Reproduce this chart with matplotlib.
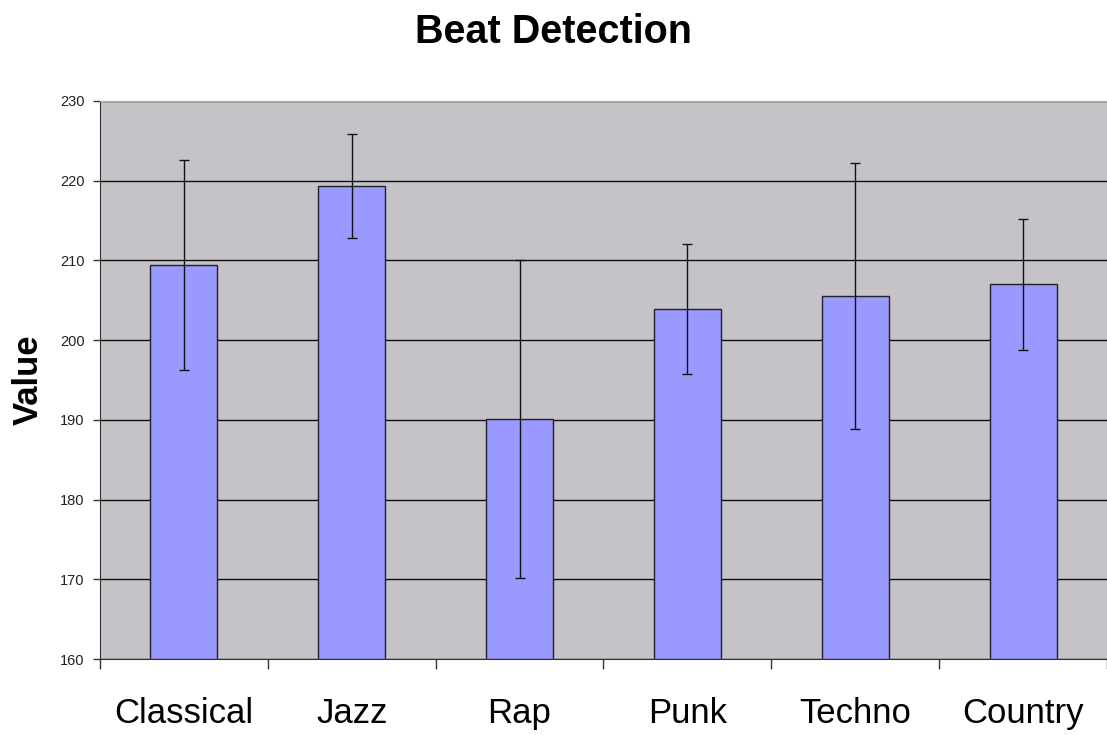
import numpy as np
import matplotlib.pyplot as plt
from matplotlib.ticker import FixedLocator, NullFormatter

genres = ['Classical', 'Jazz', 'Rap', 'Punk', 'Techno', 'Country']
means = [209.4, 219.3, 190.1, 203.9, 205.5, 207.0]
errors = [13.2, 6.5, 20.0, 8.1, 16.7, 8.2]
yticks = [160, 170, 180, 190, 200, 210, 220, 230]

plt.rcParams['font.family'] = ['Liberation Sans', 'DejaVu Sans']

fig = plt.figure(figsize=(11.07, 7.35), dpi=100)
ax = fig.add_axes([0.0903, 0.1034, 0.9097, 0.7592])
ax.set_facecolor('#C5C3C7')

x = np.arange(len(genres))
ax.bar(x, [m - 160 for m in means], bottom=160, width=0.4,
       color='#9999FF', edgecolor='#222222', linewidth=1, zorder=3)
ax.errorbar(x, means, yerr=errors, fmt='none', ecolor='#111111',
            elinewidth=1, capsize=3.5, capthick=1, zorder=4)

ax.set_xlim(-0.5, len(genres) - 0.5)
ax.set_ylim(160, 230)
ax.set_yticks(yticks)
ax.set_yticklabels([str(t) for t in yticks], fontsize=10.5, color='#222222')
ax.yaxis.grid(True, color='#111111', linewidth=1, zorder=1)
ax.set_axisbelow(True)

ax.set_xticks(x)
ax.set_xticklabels(genres, fontsize=25)
ax.tick_params(axis='x', which='major', length=0, pad=27)
ax.xaxis.set_minor_locator(FixedLocator(np.arange(-0.5, len(genres), 1.0)))
ax.xaxis.set_minor_formatter(NullFormatter())
ax.tick_params(axis='x', which='minor', length=7, width=1, color='#333333')
ax.tick_params(axis='y', length=5, width=1, color='#333333', pad=6)

ax.spines['right'].set_visible(False)
ax.spines['top'].set_color('#AAAAAA')
ax.spines['left'].set_color('#333333')
ax.spines['bottom'].set_color('#333333')

ax.set_ylabel('Value', fontsize=25, fontweight='bold', labelpad=11)
fig.suptitle('Beat Detection', fontsize=28.5, fontweight='bold', y=0.982)

fig.savefig('out.png', dpi=100)
